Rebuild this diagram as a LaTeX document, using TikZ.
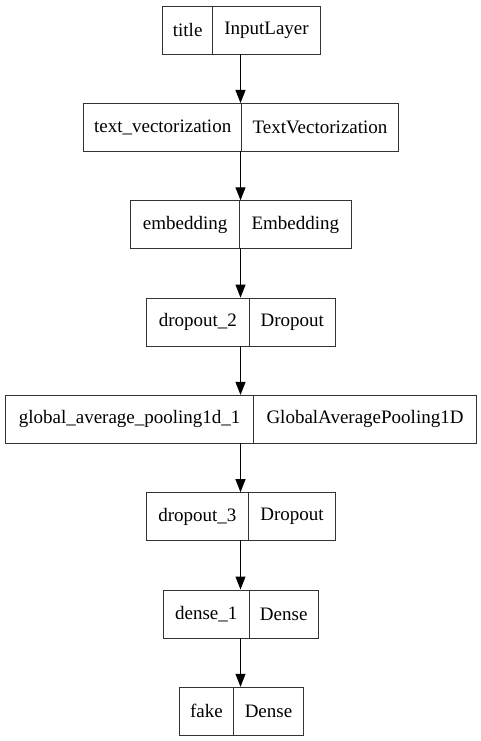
\documentclass[tikz,border=0pt]{standalone}
\usepackage{fontspec}
\setmainfont{Liberation Serif}
\usetikzlibrary{arrows.meta}
\begin{document}
\begin{tikzpicture}[x=1pt,y=-1pt,
  part/.style={draw=black!80,line width=1pt,inner sep=0pt,font=\fontsize{19}{22}\selectfont,anchor=north west,minimum height=48pt},
  conn/.style={line width=1pt,-{Triangle[length=13pt,width=10pt]}}]
\useasboundingbox (0,0) rectangle (481,741);
\newcommand{\layer}[7]{%
  \node[part,minimum width={(#3-#2)*1pt}] (#1a) at (#2,#5) {#6};
  \node[part,minimum width={(#4-#3)*1pt}] (#1b) at (#3,#5) {#7};
  \coordinate (#1t) at (240.5,#5);
  \coordinate (#1d) at (240.5,#5+48);
}
\layer{l1}{162}{212.3}{319.7}{5.7}{title}{InputLayer}
\layer{l2}{83}{241.3}{397.7}{103}{text\_vectorization}{TextVectorization}
\layer{l3}{130.3}{239}{350.7}{200.3}{embedding}{Embedding}
\layer{l4}{146}{248.7}{335}{297.6}{dropout\_2}{Dropout}
\layer{l5}{5}{253.3}{475.7}{394.9}{global\_average\_pooling1d\_1}{GlobalAveragePooling1D}
\layer{l6}{145.5}{248.3}{334.7}{492.2}{dropout\_3}{Dropout}
\layer{l7}{162.7}{248.7}{317.7}{589.5}{dense\_1}{Dense}
\layer{l8}{178.7}{233.3}{302.7}{686.8}{fake}{Dense}
\draw[conn] (l1d) -- (l2t);
\draw[conn] (l2d) -- (l3t);
\draw[conn] (l3d) -- (l4t);
\draw[conn] (l4d) -- (l5t);
\draw[conn] (l5d) -- (l6t);
\draw[conn] (l6d) -- (l7t);
\draw[conn] (l7d) -- (l8t);
\end{tikzpicture}
\end{document}
